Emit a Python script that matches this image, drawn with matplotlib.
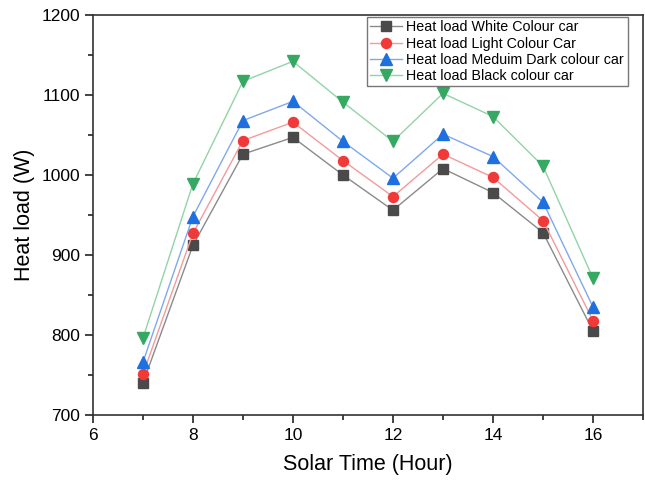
import matplotlib
matplotlib.use("Agg")
import matplotlib.pyplot as plt
from matplotlib.ticker import MultipleLocator

plt.rcParams['font.family'] = ['Liberation Sans', 'DejaVu Sans']

hours = [7, 8, 9, 10, 11, 12, 13, 14, 15, 16]
white = [740, 912, 1026, 1047, 1000, 956, 1008, 978, 928, 805]
light = [751, 927, 1043, 1066, 1018, 973, 1026, 997, 943, 818]
medium = [766, 948, 1068, 1092, 1042, 996, 1051, 1023, 966, 835]
black = [796, 989, 1117, 1142, 1091, 1042, 1102, 1073, 1011, 871]

labels = ['Heat load White Colour car', 'Heat load Light Colour Car',
          'Heat load Meduim Dark colour car', 'Heat load Black colour car']

fig = plt.figure(figsize=(6.45, 4.8), dpi=100)
ax = fig.add_axes([0.144, 0.135, 0.853, 0.834])

# values, marker, marker colour, line colour, marker size
styles = [
    (white, 's', '#4a4a4a', '#8a8a8a', 6.5),
    (light, 'o', '#f03a3a', '#f49a9a', 7.2),
    (medium, '^', '#1e6fe0', '#7fa9ee', 8),
    (black, 'v', '#35a862', '#92d3a8', 8),
]
for (vals, mk, mc, lc, ms), lab in zip(styles, labels):
    ax.plot(hours, vals, color=lc, lw=1.0, marker=mk, ms=ms,
            markerfacecolor=mc, markeredgecolor=mc, label=lab)

ax.set_xlim(6, 17)
ax.set_ylim(700, 1200)
ax.xaxis.set_major_locator(MultipleLocator(2))
ax.xaxis.set_minor_locator(MultipleLocator(1))
ax.yaxis.set_major_locator(MultipleLocator(100))
ax.yaxis.set_minor_locator(MultipleLocator(50))
ax.tick_params(which='both', direction='out', top=False, right=False,
               labelsize=12.5, width=1.2, color='#222222', pad=3)
ax.tick_params(which='major', length=6)
ax.tick_params(which='minor', length=3.5)
for s in ax.spines.values():
    s.set_linewidth(1.2)
    s.set_color('#333333')

ax.set_xlabel('Solar Time (Hour)', fontsize=15.5, labelpad=8)
ax.set_ylabel('Heat load (W)', fontsize=15.5, labelpad=5)

leg = ax.legend(loc='upper left', bbox_to_anchor=(0.498, 0.995), fontsize=10.3,
                frameon=True, fancybox=False, borderpad=0.25, labelspacing=0.15,
                handlelength=2.2, handletextpad=0.3, borderaxespad=0)
leg.get_frame().set_edgecolor('#555555')
leg.get_frame().set_linewidth(1.0)

fig.savefig('out.png', dpi=100)
